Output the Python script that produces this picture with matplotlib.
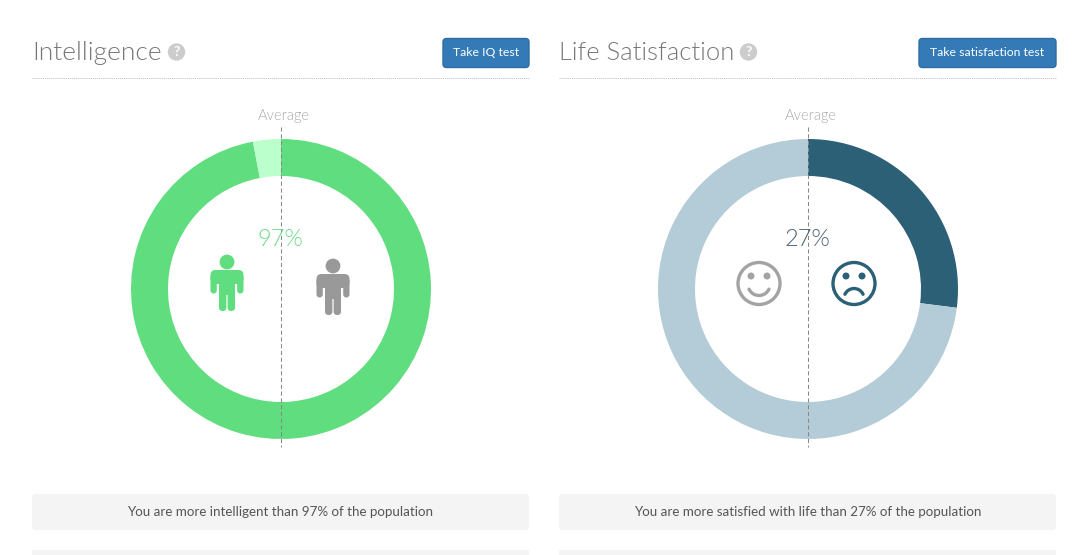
import matplotlib.pyplot as plt
from matplotlib.patches import Arc, Circle, FancyBboxPatch, Rectangle

plt.rcParams["font.family"] = ["Lato", "DejaVu Sans"]

W, H = 1088, 555

titles = ["Intelligence", "Life Satisfaction"]
button_labels = ["Take IQ test", "Take satisfaction test"]
scores = [97, 27]
rest = [3, 73]
messages = [
    "You are more intelligent than 97% of the population",
    "You are more satisfied with life than 27% of the population",
]
dark_colors = ["#60dd7e", "#2b6076"]
light_colors = ["#bbffcc", "#b4ccd7"]
pct_colors = ["#6fdc8a", "#4a6274"]

panel_left = [32, 559]
panel_right = [529, 1056]
button_left = [443, 919]
help_x = [176.5, 748.5]
title_size = [19, 18.4]
center_x = [281, 808]
line_x = [280.5, 807.5]
center_y = 289
radius = 150

fig = plt.figure(figsize=(W / 100, H / 100), dpi=100, facecolor="white")


def rounded(ax, x0, y0, x1, y1, r, **kw):
    ax.add_patch(
        FancyBboxPatch(
            (x0 + r, y0 + r),
            x1 - x0 - 2 * r,
            y1 - y0 - 2 * r,
            boxstyle=f"round,pad={r},rounding_size={r}",
            **kw,
        )
    )


# donuts
for i in range(2):
    pie_ax = fig.add_axes(
        [
            (center_x[i] - radius) / W,
            1 - (center_y + radius) / H,
            2 * radius / W,
            2 * radius / H,
        ]
    )
    pie_ax.pie(
        [scores[i], rest[i]],
        colors=[dark_colors[i], light_colors[i]],
        startangle=90,
        counterclock=False,
        radius=1,
        wedgeprops={"width": 37 / radius, "linewidth": 0},
    )
    pie_ax.set_xlim(-1, 1)
    pie_ax.set_ylim(-1, 1)

# everything else on a pixel overlay
ax = fig.add_axes([0, 0, 1, 1], facecolor="none")
ax.set_xlim(0, W)
ax.set_ylim(H, 0)
ax.axis("off")

for i in range(2):
    ax.text(
        panel_left[i], 60, titles[i], fontsize=title_size[i], color="#777777",
        fontweight=300, va="baseline",
    )
    ax.add_patch(Circle((help_x[i], 52), 8.7, color="#cccccc", lw=0))
    ax.text(
        help_x[i], 52.5, "?", fontsize=10, color="white", fontweight="bold",
        ha="center", va="center",
    )
    rounded(
        ax, button_left[i], 38.5, panel_right[i], 67.5, 3.5,
        facecolor="#337ab7", edgecolor="#2e6da4", linewidth=1,
    )
    ax.text(
        (button_left[i] + panel_right[i]) / 2, 53, button_labels[i],
        fontsize=8.8, color="white", ha="center", va="center",
    )
    ax.plot(
        [panel_left[i], panel_right[i]], [78, 78], color="#c4c4c4", lw=0.75,
        ls=(0, (1, 1)),
    )
    ax.text(
        line_x[i] + 3.5, 116, "Average", fontsize=10.5, color="#aaaaaa",
        fontweight=300, ha="center", va="center",
    )
    ax.plot(
        [line_x[i], line_x[i]], [127, 447], color="#888888", lw=0.75,
        ls=(0, (4, 2.5)),
    )
    ax.text(
        line_x[i] - 0.5, 239, f"{scores[i]}%", fontsize=17, color=pct_colors[i],
        fontweight=300, ha="center", va="center",
    )
    rounded(
        ax, panel_left[i], 494, panel_right[i], 530, 3,
        facecolor="#f4f4f4", edgecolor="none",
    )
    ax.text(
        (panel_left[i] + panel_right[i]) / 2, 511.5, messages[i], fontsize=9.6,
        color="#555555", ha="center", va="center",
    )
    ax.add_patch(
        Rectangle(
            (panel_left[i], 550), panel_right[i] - panel_left[i], 6,
            facecolor="#f4f4f4", edgecolor="none",
        )
    )


def person(x, y, color):
    # x, y = head centre
    ax.add_patch(Circle((x, y), 7.4, color=color, lw=0))
    rounded(ax, x - 16.5, y + 8, x + 16.5, y + 22, 5, facecolor=color, edgecolor="none")
    rounded(ax, x - 16.5, y + 12, x - 10.2, y + 31.5, 3.1, facecolor=color, edgecolor="none")
    rounded(ax, x + 10.2, y + 12, x + 16.5, y + 31.5, 3.1, facecolor=color, edgecolor="none")
    ax.add_patch(Rectangle((x - 8, y + 9), 16, 24, facecolor=color, edgecolor="none"))
    rounded(ax, x - 8, y + 25, x - 0.6, y + 49, 3.6, facecolor=color, edgecolor="none")
    rounded(ax, x + 0.6, y + 25, x + 8, y + 49, 3.6, facecolor=color, edgecolor="none")


def face(x, y, color, happy):
    ax.add_patch(Circle((x, y), 21, facecolor="none", edgecolor=color, lw=2.4))
    ax.add_patch(Circle((x - 8, y - 7.5), 3.5, color=color, lw=0))
    ax.add_patch(Circle((x + 8, y - 7.5), 3.5, color=color, lw=0))
    if happy:
        mouth = Arc((x, y + 1), 22, 22, theta1=25, theta2=155, color=color, lw=2.4)
    else:
        mouth = Arc((x, y + 15), 20, 20, theta1=205, theta2=335, color=color, lw=2.4)
    mouth.set_capstyle("round")
    ax.add_patch(mouth)


person(227, 262, "#60dd7e")
person(333, 266, "#999999")
face(759, 283.5, "#a3a3a3", True)
face(854, 283.5, "#2b6076", False)

fig.savefig("out.png", dpi=100, facecolor="white")
